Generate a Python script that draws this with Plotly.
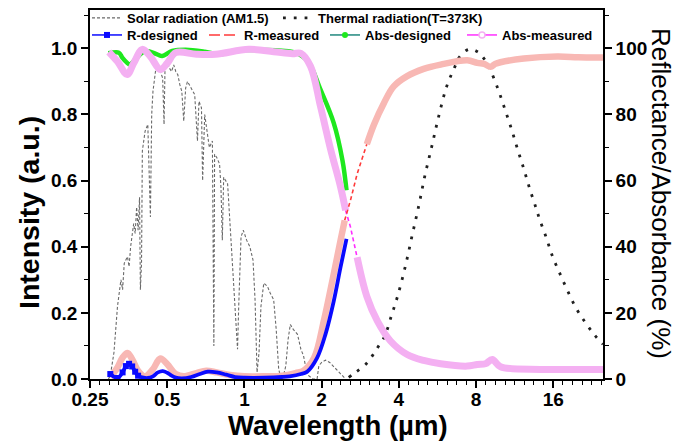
import numpy as np
import plotly.graph_objects as go

# ---------------- data ----------------
solar_wl = [0.295, 0.30, 0.31, 0.32, 0.33, 0.335, 0.34, 0.35, 0.355, 0.36, 0.37, 0.375, 0.38, 0.385,
            0.39, 0.393, 0.397, 0.40, 0.41, 0.42, 0.43, 0.435, 0.44, 0.45, 0.46, 0.47, 0.48, 0.486,
            0.49, 0.50, 0.51, 0.52, 0.53, 0.54, 0.55, 0.56, 0.57, 0.58, 0.59, 0.60, 0.62, 0.64,
            0.656, 0.665, 0.68, 0.687, 0.70, 0.72, 0.73, 0.75, 0.76, 0.765, 0.78, 0.80, 0.81, 0.82,
            0.83, 0.86, 0.88, 0.90, 0.93, 0.94, 0.95, 0.97, 0.99, 1.02, 1.05, 1.08, 1.10, 1.12,
            1.14, 1.16, 1.19, 1.23, 1.26, 1.30, 1.33, 1.36, 1.38, 1.42, 1.45, 1.48, 1.51, 1.55,
            1.61, 1.66, 1.70, 1.74, 1.78, 1.85, 1.92, 1.95, 2.0, 2.07, 2.15, 2.2, 2.3, 2.4, 2.48]
solar_int = [0.0, 0.01, 0.08, 0.22, 0.30, 0.27, 0.35, 0.37, 0.34, 0.40, 0.47, 0.44, 0.52, 0.45,
             0.55, 0.27, 0.35, 0.69, 0.75, 0.77, 0.49, 0.80, 0.87, 0.93, 0.95, 0.93, 0.91, 0.77,
             0.93, 0.96, 0.94, 0.93, 0.95, 0.93, 0.92, 0.89, 0.87, 0.78, 0.88, 0.90, 0.88, 0.86,
             0.72, 0.84, 0.82, 0.60, 0.80, 0.74, 0.70, 0.72, 0.10, 0.68, 0.67, 0.65, 0.58, 0.42,
             0.61, 0.59, 0.46, 0.34, 0.18, 0.09, 0.22, 0.43, 0.45, 0.42, 0.40, 0.36, 0.24, 0.02,
             0.08, 0.22, 0.29, 0.28, 0.26, 0.24, 0.15, 0.03, 0.01, 0.01, 0.04, 0.12, 0.165, 0.15,
             0.135, 0.09, 0.07, 0.03, 0.01, 0.0, 0.0, 0.04, 0.05, 0.057, 0.05, 0.042, 0.027, 0.012, 0.0]

thermal_wl = [2.55, 2.71, 2.96, 3.17, 3.35, 3.53, 3.74, 3.96, 4.24, 4.5, 4.78, 5.05, 5.37, 5.71,
              6.14, 6.61, 6.91, 7.5, 8.13, 8.66, 9.11, 9.73, 10.33, 10.97, 11.58, 12.25, 12.93,
              13.69, 14.11, 15.03, 15.9, 16.93, 18.14, 19.55, 21.24, 23.18, 25.0]
thermal_int = [0.005, 0.02, 0.043, 0.073, 0.102, 0.131, 0.191, 0.252, 0.341, 0.432, 0.523, 0.614,
               0.702, 0.792, 0.884, 0.944, 0.975, 0.997, 0.989, 0.965, 0.933, 0.878, 0.819, 0.758,
               0.698, 0.638, 0.577, 0.518, 0.486, 0.427, 0.370, 0.321, 0.269, 0.217, 0.173, 0.133, 0.105]

rdes_wl = [0.30, 0.32, 0.335, 0.345, 0.355, 0.365, 0.375, 0.385, 0.40, 0.42, 0.44, 0.46, 0.48, 0.50,
           0.52, 0.54, 0.57, 0.62, 0.67, 0.72, 0.78, 0.85, 0.92, 1.0, 1.2, 1.4, 1.5, 1.66, 1.76,
           1.92, 2.07, 2.23, 2.37, 2.5]
rdes_val = [1.5, 0.3, 2.0, 3.9, 4.6, 3.8, 2.2, 1.0, 0.5, 0.3, 0.8, 2.0, 2.4, 1.9,
            1.0, 0.4, 0.2, 0.6, 1.5, 2.2, 2.0, 1.3, 0.6, 0.4, 0.4, 0.6, 0.8, 1.5, 2.3,
            6.4, 13.5, 23.6, 33.8, 42.4]

rmeas_wl = [0.30, 0.32, 0.335, 0.35, 0.365, 0.385, 0.41, 0.44, 0.47, 0.50, 0.54, 0.58, 0.65, 0.71,
            0.78, 0.88, 1.0, 1.2, 1.4, 1.58, 1.7, 1.87, 2.04, 2.23, 2.37, 2.46, 2.59, 2.75, 3.0,
            3.2, 3.5, 3.82, 4.31, 5.0, 5.82, 7.39, 8.09, 8.6, 9.11, 9.5, 9.96, 12.28, 16.57, 20.0,
            24.4, 25.0]
rmeas_val = [0.5, 3.5, 6.5, 7.9, 6.0, 2.5, 0.8, 3.0, 6.2, 4.5, 1.5, 0.8, 1.8, 2.5,
             2.0, 1.2, 0.8, 0.8, 1.0, 1.8, 2.5, 6.4, 17.6, 31.8, 41.9, 48.0, 54.0, 62.0, 71.0,
             77.0, 83.5, 88.5, 91.6, 93.8, 95.1, 96.4, 95.6, 95.3, 94.4, 95.3, 95.8, 96.9, 97.5, 97.3,
             97.2, 97.2]

ades_wl = [0.295, 0.324, 0.334, 0.349, 0.357, 0.376, 0.41, 0.457, 0.478, 0.523, 0.59, 0.7, 0.8,
           0.9, 1.0, 1.2, 1.4, 1.58, 1.77, 1.98, 2.23, 2.41, 2.5]
ades_val = [98.5, 98.7, 97.2, 95.6, 95.1, 96.7, 99.2, 98.2, 97.7, 99.2, 99.6, 99.0, 98.2,
            99.2, 99.5, 99.5, 99.3, 98.7, 96.0, 87.5, 77.4, 66.2, 57.1]

ameas_wl = [0.296, 0.32, 0.349, 0.37, 0.40, 0.43, 0.47, 0.50, 0.54, 0.65, 0.772, 1.04, 1.3, 1.54,
            1.66, 1.81, 1.98, 2.17, 2.37, 2.48, 2.59, 2.75, 3.0, 3.3, 3.71, 4.31, 5.0, 5.82, 7.39,
            8.09, 8.7, 9.25, 9.96, 14.27, 19.25, 25.0]
ameas_val = [98.9, 96.0, 92.1, 95.5, 99.7, 97.5, 93.6, 95.5, 98.7, 98.2, 98.2, 99.7, 99.0, 98.4,
             98.5, 94.6, 82.4, 69.3, 58.1, 51.0, 46.0, 36.8, 25.0, 17.5, 11.5, 7.4, 5.6, 4.6, 3.9,
             4.4, 4.6, 5.9, 3.7, 2.9, 2.9, 2.9]

x_ticks = [0.25, 0.5, 1, 2, 4, 8, 16]
x_ticktext = ["0.25", "0.5", "1", "2", "4", "8", "16"]

# ---------------- styling ----------------
FONT = "Liberation Sans, Arial, sans-serif"


def split_band(wl, val, lo, hi):
    """band part (outside the sparse transition) and dashed part (inside it)."""
    band = [v if (w <= lo or w >= hi) else None for w, v in zip(wl, val)]
    dash = [v if (lo <= w <= hi) else None for w, v in zip(wl, val)]
    return list(wl), band, dash


fig = go.Figure()

# Solar (left axis)
fig.add_trace(go.Scatter(x=solar_wl, y=solar_int, mode="lines", showlegend=False,
                         line=dict(color="#6a6a6a", width=1.1, dash="3px,2px")))
# Thermal (left axis)
fig.add_trace(go.Scatter(x=thermal_wl, y=thermal_int, mode="lines", showlegend=False,
                         line=dict(color="#202020", width=2.8, dash="2.8px,7.6px"),
                         line_shape="spline"))

# Abs-designed (green, right axis)
fig.add_trace(go.Scatter(x=ades_wl, y=ades_val, yaxis="y2", mode="lines", showlegend=False,
                         line=dict(color="#1ee81e", width=4.5), line_shape="spline"))

# Abs-measured band + dashes
w, band, dash = split_band(ameas_wl, ameas_val, 2.48, 2.75)
fig.add_trace(go.Scatter(x=w, y=dash, yaxis="y2", mode="lines", showlegend=False,
                         line=dict(color="#ff2cff", width=1.6, dash="4px,3px")))
fig.add_trace(go.Scatter(x=w, y=band, yaxis="y2", mode="lines", showlegend=False,
                         line=dict(color="#f4b0f2", width=7), line_shape="spline"))

# R-measured band + dashes
w, band, dash = split_band(rmeas_wl, rmeas_val, 2.46, 3.0)
fig.add_trace(go.Scatter(x=w, y=dash, yaxis="y2", mode="lines", showlegend=False,
                         line=dict(color="#ff3a3a", width=1.6, dash="4px,3px")))
fig.add_trace(go.Scatter(x=w, y=band, yaxis="y2", mode="lines", showlegend=False,
                         line=dict(color="#f8b8b4", width=6.5), line_shape="spline"))

# R-designed (blue)
fig.add_trace(go.Scatter(x=rdes_wl, y=rdes_val, yaxis="y2", mode="lines", showlegend=False,
                         line=dict(color="#0a0aff", width=3.8), line_shape="spline"))
fig.add_trace(go.Scatter(x=rdes_wl[:8], y=rdes_val[:8], yaxis="y2", mode="markers", showlegend=False,
                         marker=dict(color="#0a0aff", size=6, symbol="square")))

# ---------------- legend proxies (one legend per entry for exact placement) ----------------
legend_items = [
    ("Solar radiation (AM1.5)", dict(color="#6a6a6a", width=1.2, dash="3px,2px"), None, "lines", "legend"),
    ("Thermal radiation(T=373K)", dict(color="#202020", width=2.8, dash="2.8px,8px"), None, "lines", "legend2"),
    ("R-designed", dict(color="#1a1aff", width=1.6), dict(color="#0a0aff", size=6, symbol="square"),
     "lines+markers", "legend3"),
    ("R-measured", dict(color="#ff3a3a", width=1.6, dash="11px,4px"), None, "lines", "legend4"),
    ("Abs-designed", dict(color="#2f8f86", width=1.6), dict(color="#1ee81e", size=6, symbol="circle"),
     "lines+markers", "legend5"),
    ("Abs-measured", dict(color="#ff3cff", width=1.6),
     dict(color="white", size=6, symbol="circle", line=dict(color="#f4b0f2", width=1.5)),
     "lines+markers", "legend6"),
]
for name, ln, mk, mode, lg in legend_items:
    kw = dict(x=[None], y=[None], name=name, mode=mode, line=ln, legend=lg, showlegend=True)
    if mk is not None:
        kw["marker"] = mk
    fig.add_trace(go.Scatter(**kw))

W0, W1 = 90, 603
T0, B0 = 10, 379


def px2paper_x(px):
    return (px - W0) / (W1 - W0)


def px2paper_y(py):
    return (B0 - py) / (B0 - T0)


legend_pos = {
    "legend": (127, 18), "legend2": (318, 18),
    "legend3": (127, 35), "legend4": (244, 35), "legend5": (365, 35), "legend6": (502, 35),
}
legend_layout = {}
for lg, (tx, ty) in legend_pos.items():
    legend_layout[lg] = dict(
        x=px2paper_x(tx - 40), y=px2paper_y(ty), xanchor="left", yanchor="middle",
        bgcolor="rgba(0,0,0,0)", borderwidth=0, itemwidth=30,
        font=dict(family=FONT, size=13, weight="bold", color="black"),
        tracegroupgap=0,
    )

minor_x = [0.25 * 2 ** (j / 8) for j in range(0, 54) if j % 8 != 0]

axis_common = dict(showgrid=False, zeroline=False, linecolor="black", linewidth=1.6,
                   ticks="outside", ticklen=7, tickwidth=1.5, tickcolor="black", automargin=False,
                   tickfont=dict(family=FONT, size=19, weight="bold", color="black"))

fig.update_layout(
    template="none",
    width=685, height=445,
    margin=dict(l=W0, r=685 - W1, t=T0, b=445 - B0, autoexpand=False),
    plot_bgcolor="white", paper_bgcolor="white",
    font=dict(family=FONT, color="black"),
    xaxis=dict(type="log", range=[np.log10(0.25), np.log10(25)],
               tickvals=x_ticks, ticktext=x_ticktext, mirror=True, ticklabelstandoff=-5,
               minor=dict(tickvals=minor_x, ticks="outside", ticklen=4, tickwidth=1.2, tickcolor="black"),
               **axis_common),
    yaxis=dict(range=[0, 1.116], tickvals=[0, 0.2, 0.4, 0.6, 0.8, 1.0], tickformat=".1f",
               minor=dict(dtick=0.1, ticks="outside", ticklen=4, tickwidth=1.2, tickcolor="black"),
               **axis_common),
    yaxis2=dict(range=[0, 111.6], overlaying="y", side="right", anchor="x",
                tickvals=[0, 20, 40, 60, 80, 100],
                minor=dict(dtick=10, ticks="outside", ticklen=4, tickwidth=1.2, tickcolor="black"),
                **axis_common),
    **legend_layout,
    annotations=[
        dict(text="Intensity (a.u.)", xref="paper", yref="paper", x=px2paper_x(29), y=px2paper_y(213),
             textangle=-90, showarrow=False, xanchor="center", yanchor="middle",
             font=dict(family=FONT, size=28.5, weight="bold", color="black")),
        dict(text="Wavelength (\u00b5m)", xref="paper", yref="paper", x=px2paper_x(338), y=px2paper_y(426),
             showarrow=False, xanchor="center", yanchor="middle",
             font=dict(family=FONT, size=27.5, weight="bold", color="black")),
        dict(text="Reflectance/Absorbance (%)", xref="paper", yref="paper", x=px2paper_x(661),
             y=px2paper_y(193), textangle=90, showarrow=False, xanchor="center", yanchor="middle",
             font=dict(family=FONT, size=26, color="black")),
    ],
)

fig.write_html("out.html", config={"displayModeBar": False},
               post_script="document.body.style.margin='0';document.body.style.padding='0';")
